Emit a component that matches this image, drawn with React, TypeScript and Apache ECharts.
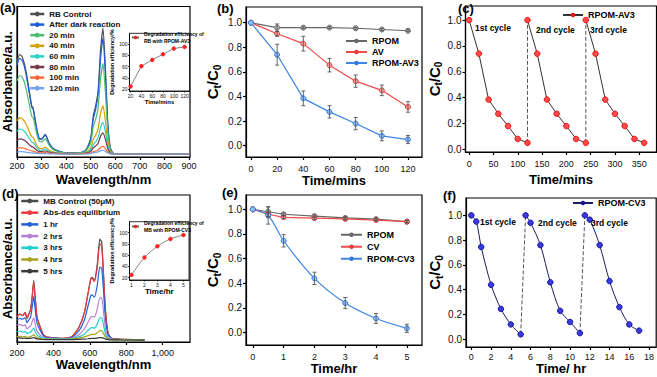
import React, { useEffect, useRef } from "react";
import * as echarts from "echarts";

const FONT = '"Liberation Sans", Arial, Helvetica, sans-serif';

// ---------- (a) RB spectra ----------
const waveA = [200,210,220,230,240,250,260,265,270,280,290,300,315,330,345,360,380,400,450,480,500,510,520,530,540,550,560,570,580,590,600,700,800,900];
const rbControl = [.63,.68,.67,.62,.54,.44,.34,.33,.29,.19,.125,.12,.15,.095,.06,.045,.035,.027,.027,.045,.125,.27,.34,.44,.71,.855,.58,.21,.06,.027,.02,.02,.02,.02];
const rbDark = [.61,.655,.645,.60,.52,.425,.33,.32,.28,.185,.122,.117,.146,.092,.058,.044,.034,.027,.027,.044,.118,.25,.315,.41,.655,.79,.535,.195,.057,.027,.02,.02,.02,.02];
const rb20 = [.505,.54,.535,.495,.43,.35,.27,.265,.235,.155,.105,.1,.12,.08,.052,.04,.031,.025,.026,.04,.095,.2,.25,.325,.52,.62,.42,.16,.048,.025,.02,.02,.02,.02];
const rb40 = [.24,.26,.257,.238,.208,.17,.135,.13,.117,.08,.058,.056,.066,.047,.035,.03,.026,.024,.025,.032,.06,.115,.145,.185,.29,.34,.235,.095,.033,.022,.02,.02,.02,.02];
const rb60 = [.17,.185,.183,.17,.149,.123,.099,.096,.087,.062,.047,.045,.052,.038,.03,.027,.024,.023,.024,.029,.047,.082,.1,.127,.197,.23,.162,.07,.029,.021,.02,.02,.02,.02];
const rb80 = [.11,.12,.119,.111,.098,.082,.068,.066,.06,.045,.037,.036,.04,.032,.027,.025,.023,.022,.023,.026,.037,.06,.073,.09,.138,.16,.115,.053,.026,.021,.02,.02,.02,.02];
const rb100 = [.056,.06,.06,.057,.051,.045,.04,.039,.036,.031,.028,.028,.029,.026,.024,.022,.021,.02,.021,.022,.027,.035,.04,.047,.062,.07,.054,.031,.022,.02,.02,.02,.02,.02];
const rb120 = [.033,.036,.035,.034,.031,.029,.027,.027,.026,.024,.023,.023,.023,.021,.02,.02,.019,.019,.019,.02,.023,.027,.03,.034,.041,.045,.037,.026,.02,.019,.019,.019,.019,.019];
const namesA = ["RB Control","After dark reaction","20 min","40 min","60 min","80 min","100 min","120 min"];
const colorsA = ["#505050","#1f5ed8","#4cbd70","#d6a000","#30d3c8","#763a4a","#ff6b3d","#72a4ee"];
const seriesA = [rbControl, rbDark, rb20, rb40, rb60, rb80, rb100, rb120];

// inset (a)
const insetATime = [20,40,60,80,100,120];
const insetAEff = [25,61,72,82,92,95];

// ---------- (b) ----------
const bTime = [0,20,40,60,80,100,120];
const bRPOM = [1.0,0.96,0.96,0.96,0.955,0.945,0.935];
const bRPOMErr = [0,0.03,0.008,0.008,0.008,0.008,0.008];
const bAV = [1.0,0.91,0.83,0.655,0.525,0.45,0.315];
const bAVErr = [0,0.02,0.06,0.055,0.05,0.043,0.043];
const bAV3 = [1.0,0.74,0.385,0.275,0.18,0.08,0.05];
const bAV3Err = [0,0.085,0.06,0.05,0.05,0.04,0.033];

// ---------- (c) ----------
const cTimes = [[0,20,40,60,80,100,120],[120,140,160,180,200,220,240],[240,260,280,300,320,340,360]];
const cValues = [[1.0,0.74,0.385,0.275,0.18,0.08,0.05],[1.0,0.74,0.385,0.275,0.18,0.08,0.05],[1.0,0.74,0.385,0.275,0.18,0.08,0.05]];

// ---------- (d) MB spectra ----------
const waveD = [200,215,230,245,255,265,275,285,292,300,310,325,340,360,400,450,500,540,570,590,605,612,625,640,655,665,675,685,700,720,760,900];
const mbControl = [.17,.19,.18,.2,.16,.19,.22,.33,.42,.3,.17,.11,.06,.035,.03,.025,.035,.1,.2,.33,.43,.44,.42,.52,.7,.68,.47,.23,.06,.025,.02,.015];
const mbAbsDes = [.17,.19,.18,.2,.16,.19,.22,.33,.41,.3,.17,.11,.06,.035,.03,.025,.035,.1,.2,.33,.43,.435,.41,.5,.67,.65,.45,.22,.06,.025,.02,.015];
const mb1 = [.15,.16,.155,.165,.13,.15,.17,.25,.31,.22,.13,.085,.05,.03,.027,.023,.03,.075,.15,.245,.315,.32,.305,.38,.51,.5,.35,.17,.05,.022,.018,.014];
const mb2 = [.115,.12,.11,.115,.09,.1,.11,.145,.165,.12,.075,.05,.035,.025,.024,.021,.026,.05,.09,.135,.17,.175,.17,.22,.3,.3,.21,.1,.035,.02,.017,.014];
const mb3 = [.07,.075,.068,.07,.058,.063,.068,.085,.095,.072,.048,.035,.027,.022,.021,.02,.023,.035,.055,.078,.095,.098,.095,.12,.165,.165,.115,.06,.025,.018,.016,.014];
const mb4 = [.036,.038,.035,.037,.032,.034,.036,.044,.05,.04,.03,.025,.021,.019,.018,.018,.02,.026,.035,.043,.05,.052,.051,.062,.077,.077,.058,.035,.02,.016,.015,.013];
const mb5 = [.03,.028,.025,.026,.023,.024,.025,.028,.03,.026,.021,.019,.017,.016,.016,.016,.016,.018,.02,.022,.024,.025,.025,.027,.03,.03,.026,.02,.016,.015,.014,.013];
const namesD = ["MB Control (50μM)","Abs-des equilibrium","1 hr","2 hrs","3 hrs","4 hrs","5 hrs"];
const colorsD = ["#4a4a4a","#ec3a40","#2262d8","#b57fd3","#1bcfcf","#a9a21e","#3a3a3a"];
const seriesD = [mbControl, mbAbsDes, mb1, mb2, mb3, mb4, mb5];

// inset (d)
const insetDTime = [1,2,3,4,5];
const insetDEff = [25,56,76,89,96];

// ---------- (e) ----------
const eTime = [0,0.5,1,2,3,4,5];
const eRPOM = [1.0,0.98,0.96,0.945,0.93,0.92,0.90];
const eRPOMErr = [0,0.04,0.01,0.01,0.01,0.01,0.01];
const eCV = [1.0,0.96,0.935,0.928,0.922,0.913,0.90];
const eCVErr = [0,0.02,0.01,0.01,0.01,0.01,0.01];
const eCV3 = [1.0,0.95,0.745,0.44,0.24,0.115,0.035];
const eCV3Err = [0,0.07,0.05,0.05,0.045,0.04,0.033];

// ---------- (f) ----------
const fTimes = [[0,0.5,1,2,3,4,5],[5.5,6,7,8,9,10,11],[11.5,12,13,14,15,16,17]];
const fValues = [[1.0,0.95,0.745,0.44,0.245,0.12,0.04],[1.0,0.94,0.76,0.46,0.23,0.14,0.05],[1.0,0.965,0.76,0.47,0.26,0.12,0.07]];

// tick lists
const ticksAX = [200,300,400,500,600,700,800,900];
const ticksDX = [200,400,600,800,1000];
const ticksInsetAX = [20,40,60,80,100,120];
const ticksInsetY = [20,40,60,80,100];
const ticksInsetDX = [1,2,3,4,5];
const ticksBX = [0,20,40,60,80,100,120];
const ticksCX = [0,50,100,150,200,250,300,350];
const ticksEX = [0,1,2,3,4,5];
const ticksFX = [0,2,4,6,8,10,12,14,16,18];
const ticksRatio = [0,0.2,0.4,0.6,0.8,1.0];

const ctName = "{m|C}{s|t}{m|/C}{s|0}";
const ctStyle = {
  color: "#000",
  fontFamily: FONT,
  fontWeight: "bold",
  rich: {
    m: { fontSize: 15, fontWeight: "bold", fontFamily: FONT, color: "#000" },
    s: { fontSize: 10, fontWeight: "bold", fontFamily: FONT, color: "#000", verticalAlign: "top", padding: [9, 0, 0, 0] },
  },
};

function axis(gridIndex: number, min: number, max: number, ticks: number[] | null, o: any = {}) {
  const lw = o.lw ?? 1.2;
  return {
    type: "value",
    gridIndex,
    min,
    max,
    axisLine: { show: true, onZero: false, lineStyle: { color: "#000", width: lw } },
    axisTick: ticks
      ? { show: true, inside: false, length: o.tickLen ?? 3, customValues: ticks, lineStyle: { color: "#000", width: lw } }
      : { show: false },
    axisLabel: ticks && !o.noLabels
      ? { show: true, customValues: ticks, margin: o.margin ?? 4, fontSize: o.fs ?? 9, fontFamily: FONT, color: "#111", formatter: o.fmt }
      : { show: false },
    splitLine: { show: false },
    name: o.name,
    nameLocation: "middle",
    nameGap: o.nameGap ?? 10,
    nameRotate: o.nameRotate,
    nameTextStyle: o.nameStyle,
  };
}

const bold = (size: number) => ({ fontFamily: FONT, fontSize: size, fontWeight: "bold", color: "#000" });
const fmt1 = (v: number) => v.toFixed(1);

function line(name: string, gi: number, xs: number[], ys: number[], color: string, o: any = {}) {
  return {
    type: "line",
    name,
    xAxisIndex: gi,
    yAxisIndex: gi,
    data: xs.map((x, i) => [x, ys[i]]),
    symbol: o.symbol ?? "none",
    symbolSize: o.symbolSize ?? 5,
    showSymbol: !!o.symbol,
    smooth: o.smooth ?? false,
    lineStyle: { color, width: o.width ?? 1.2, type: o.dash ? "dashed" : "solid" },
    itemStyle: { color: o.fill ?? color, borderColor: o.border ?? color, borderWidth: o.symbol ? 1 : 0 },
    z: o.z ?? 2,
    silent: true,
    emphasis: { disabled: true },
  };
}

function errBars(name: string, gi: number, xs: number[], ys: number[], errs: number[], color: string) {
  const data = xs.map((x, i) => [x, ys[i] - errs[i], ys[i] + errs[i]]).filter((_, i) => errs[i] > 0);
  return {
    type: "custom",
    name,
    xAxisIndex: gi,
    yAxisIndex: gi,
    data,
    z: 3,
    silent: true,
    encode: { x: 0, y: [1, 2] },
    renderItem: (_p: any, api: any) => {
      const x = api.value(0), lo = api.value(1), hi = api.value(2);
      const a = api.coord([x, lo]);
      const b = api.coord([x, hi]);
      const hw = 2;
      const st = { stroke: color, lineWidth: 0.9 };
      return {
        type: "group",
        children: [
          { type: "line", shape: { x1: a[0], y1: a[1], x2: b[0], y2: b[1] }, style: st },
          { type: "line", shape: { x1: a[0] - hw, y1: a[1], x2: a[0] + hw, y2: a[1] }, style: st },
          { type: "line", shape: { x1: b[0] - hw, y1: b[1], x2: b[0] + hw, y2: b[1] }, style: st },
        ],
      };
    },
  };
}

function buildOption() {
  const gridStyle = { show: true, borderColor: "#000", borderWidth: 1.2, backgroundColor: "transparent" };
  const grid = [
    { ...gridStyle, left: 17, top: 6.5, width: 173, height: 150.5 },
    { ...gridStyle, left: 129.5, top: 33.3, width: 60, height: 57.7, borderWidth: 0.8, backgroundColor: "#fff" },
    { ...gridStyle, left: 246, top: 7, width: 176, height: 150 },
    { ...gridStyle, left: 465.5, top: 6, width: 191, height: 146 },
    { ...gridStyle, left: 17, top: 195, width: 173, height: 147 },
    { ...gridStyle, left: 129.5, top: 221.7, width: 59.5, height: 58.3, borderWidth: 0.8, backgroundColor: "#fff" },
    { ...gridStyle, left: 246, top: 195, width: 176, height: 150 },
    { ...gridStyle, left: 466, top: 198, width: 190.5, height: 149 },
  ];

  const xAxis = [
    axis(0, 200, 904, ticksAX, { name: "Wavelength/nm", nameGap: 15.5, nameStyle: bold(13), margin: 4 }),
    axis(1, 18, 129, ticksInsetAX, { lw: 0.8, tickLen: 1.5, fs: 5, margin: 2, name: "Time/mins", nameGap: 7, nameStyle: bold(6) }),
    axis(2, -3.8, 130.7, ticksBX, { name: "Time/mins", nameGap: 17, nameStyle: bold(13), margin: 7 }),
    axis(3, -7.5, 385.4, ticksCX, { name: "Time/mins", nameGap: 20.5, nameStyle: bold(13), margin: 7 }),
    axis(4, 200, 1150, ticksDX, { name: "Wavelength/nm", nameGap: 15.5, nameStyle: bold(13), margin: 6 }),
    axis(5, 0.85, 5.43, ticksInsetDX, { lw: 0.8, tickLen: 1.5, fs: 5, margin: 2, name: "Time/hr", nameGap: 6, nameStyle: bold(8) }),
    axis(6, -0.22, 5.49, ticksEX, { name: "Time/hr", nameGap: 14, nameStyle: bold(13), margin: 7 }),
    axis(7, -0.54, 18.73, ticksFX, { name: "Time/ hr", nameGap: 13, nameStyle: bold(13), margin: 5 }),
  ];

  const yAxis = [
    axis(0, 0, 1, null, { name: "Absorbance/a.u.", nameRotate: 90, nameGap: 3, nameStyle: bold(13) }),
    axis(1, 17, 119, ticksInsetY, { lw: 0.8, tickLen: 1.5, fs: 5, margin: 2, name: "Degradation efficiency/%", nameRotate: 90, nameGap: 11, nameStyle: bold(5.5) }),
    axis(2, -0.092, 1.128, ticksRatio, { fmt: fmt1, fs: 10, margin: 4, name: ctName, nameRotate: 90, nameGap: 24, nameStyle: ctStyle }),
    axis(3, -0.021, 1.109, ticksRatio, { fmt: fmt1, fs: 10, margin: 4, name: ctName, nameRotate: 90, nameGap: 17, nameStyle: ctStyle }),
    axis(4, 0, 1, null, { name: "Absorbance/a.u.", nameRotate: 90, nameGap: 3, nameStyle: bold(13) }),
    axis(5, 16, 119.6, ticksInsetY, { lw: 0.8, tickLen: 1.5, fs: 5, margin: 2, name: "Degradation efficiency/%", nameRotate: 90, nameGap: 11, nameStyle: bold(5.5) }),
    axis(6, -0.1, 1.116, ticksRatio, { fmt: fmt1, fs: 10, margin: 4, name: ctName, nameRotate: 90, nameGap: 24, nameStyle: ctStyle }),
    axis(7, -0.062, 1.14, ticksRatio, { fmt: fmt1, fs: 10, margin: 4, name: ctName, nameRotate: 90, nameGap: 16, nameStyle: ctStyle }),
  ];

  const series: any[] = [];
  // (a)
  seriesA.forEach((ys, i) => series.push(line(namesA[i], 0, waveA, ys, colorsA[i], { smooth: 0.2, width: 1.2 })));
  series.push(line("Degradation efficiency of RB with RPOM-AV3", 1, insetATime, insetAEff, "#666", { symbol: "circle", symbolSize: 3.5, fill: "#ff2020", border: "#ff2020", width: 0.8, z: 5 }));
  // (b)
  series.push(line("RPOM|b", 2, bTime, bRPOM, "#666", { symbol: "circle", fill: "#bdbdbd", border: "#666" }));
  series.push(line("AV|b", 2, bTime, bAV, "#f04a4a", { symbol: "circle", fill: "#ff9d9d", border: "#e83a3a" }));
  series.push(line("RPOM-AV3|b", 2, bTime, bAV3, "#3d85e6", { symbol: "circle", fill: "#8fc2ff", border: "#2f78dd" }));
  series.push(errBars("errRPOM|b", 2, bTime, bRPOM, bRPOMErr, "#555"));
  series.push(errBars("errAV|b", 2, bTime, bAV, bAVErr, "#555"));
  series.push(errBars("errAV3|b", 2, bTime, bAV3, bAV3Err, "#555"));
  // (c)
  cTimes.forEach((ts, i) => series.push(line("RPOM-AV3|c", 3, ts, cValues[i], "#333", { symbol: "circle", symbolSize: 5.5, fill: "#ff4a4a", border: "#f01010", width: 1 })));
  for (let i = 0; i < cTimes.length - 1; i++) {
    const a = cTimes[i], b = cTimes[i + 1];
    series.push(line("dash|c" + i, 3, [a[a.length - 1], b[0]], [cValues[i][a.length - 1], cValues[i + 1][0]], "#555", { dash: true, width: 1 }));
  }
  // (d)
  seriesD.forEach((ys, i) => series.push(line(namesD[i], 4, waveD, ys, colorsD[i], { smooth: 0.2, width: 1.2 })));
  series.push(line("Degradation efficiency of MB with RPOM-CV3", 5, insetDTime, insetDEff, "#666", { symbol: "circle", symbolSize: 3.5, fill: "#ff2020", border: "#ff2020", width: 0.8, smooth: 0.3, z: 5 }));
  // (e)
  series.push(line("RPOM|e", 6, eTime, eRPOM, "#666", { symbol: "circle", fill: "#bdbdbd", border: "#666" }));
  series.push(line("CV|e", 6, eTime, eCV, "#f04a4a", { symbol: "circle", fill: "#ff9d9d", border: "#e83a3a" }));
  series.push(line("RPOM-CV3|e", 6, eTime, eCV3, "#3d85e6", { symbol: "circle", fill: "#8fc2ff", border: "#2f78dd", smooth: 0.3 }));
  series.push(errBars("errRPOM|e", 6, eTime, eRPOM, eRPOMErr, "#555"));
  series.push(errBars("errCV|e", 6, eTime, eCV, eCVErr, "#555"));
  series.push(errBars("errCV3|e", 6, eTime, eCV3, eCV3Err, "#555"));
  // (f)
  fTimes.forEach((ts, i) => series.push(line("RPOM-CV3|f", 7, ts, fValues[i], "#1c1c5e", { symbol: "circle", symbolSize: 5.5, fill: "#3a3ae0", border: "#16169a", width: 1, smooth: 0.3 })));
  for (let i = 0; i < fTimes.length - 1; i++) {
    const a = fTimes[i], b = fTimes[i + 1];
    series.push(line("dash|f" + i, 7, [a[a.length - 1], b[0]], [fValues[i][a.length - 1], fValues[i + 1][0]], "#555", { dash: true, width: 1 }));
  }

  const strip = (n: string) => n.split("|")[0];
  const legBase = { orient: "vertical", selectedMode: false, padding: 0 };
  const legend = [
    { ...legBase, left: 29, top: 10, itemWidth: 14, itemHeight: 6, itemGap: 2.6, data: namesA,
      lineStyle: { width: 2.5 }, textStyle: { ...bold(8), color: "#111", lineHeight: 8 } },
    { ...legBase, left: 20, top: 196.5, itemWidth: 17, itemHeight: 6, itemGap: 2.7, data: namesD,
      lineStyle: { width: 2.5 }, textStyle: { ...bold(8), color: "#111", lineHeight: 9 } },
    { ...legBase, left: 345, top: 36.5, itemWidth: 21, itemHeight: 3, itemGap: 2, data: ["RPOM|b", "AV|b", "RPOM-AV3|b"],
      formatter: strip, textStyle: { ...bold(9), lineHeight: 9 } },
    { ...legBase, left: 340, top: 230, itemWidth: 21, itemHeight: 3, itemGap: 2.5, data: ["RPOM|e", "CV|e", "RPOM-CV3|e"],
      formatter: strip, textStyle: { ...bold(9), lineHeight: 9.5 } },
    { ...legBase, left: 562, top: 10.5, itemWidth: 20, itemHeight: 3, data: ["RPOM-AV3|c"],
      formatter: strip, textStyle: { ...bold(9), lineHeight: 9 } },
    { ...legBase, left: 572, top: 198.5, itemWidth: 20, itemHeight: 3, data: ["RPOM-CV3|f"],
      formatter: strip, textStyle: { ...bold(9), lineHeight: 9 } },
    { ...legBase, left: 131, top: 27, itemWidth: 7, itemHeight: 2, data: ["Degradation efficiency of RB with RPOM-AV3"],
      formatter: () => "Degradation efficiency of\nRB with RPOM-AV3",
      textStyle: { ...bold(5), lineHeight: 7, padding: [7, 0, 0, 0] } },
    { ...legBase, left: 131, top: 216, itemWidth: 7, itemHeight: 2, data: ["Degradation efficiency of MB with RPOM-CV3"],
      formatter: () => "Degradation efficiency of\nMB with RPOM-CV3",
      textStyle: { ...bold(5), lineHeight: 7, padding: [7, 0, 0, 0] } },
  ];

  const txt = (text: string, x: number, y: number, size: number) => ({
    type: "text",
    x,
    y,
    z: 100,
    style: { text, fill: "#000", fontFamily: FONT, fontSize: size, fontWeight: "bold", verticalAlign: "middle", align: "left" },
  });
  const graphic = [
    txt("(a)", 0, 7, 13),
    txt("(b)", 217, 8, 13),
    txt("(c)", 458, 8, 13),
    txt("(d)", 2, 193, 13),
    txt("(e)", 222, 192, 13),
    txt("(f)", 443, 195, 13),
    txt("1st cycle", 475, 28, 8.5),
    txt("2nd cycle", 536, 30, 8.5),
    txt("3rd cycle", 590, 30, 8.5),
    txt("1st cycle", 480, 221.7, 8.5),
    txt("2nd cycle", 538, 223, 8.5),
    txt("3rd cycle", 591, 223, 8.5),
  ];

  return {
    animation: false,
    backgroundColor: "#fff",
    textStyle: { fontFamily: FONT },
    grid,
    xAxis,
    yAxis,
    legend,
    series,
    graphic,
  };
}

export default function App() {
  const ref = useRef<HTMLDivElement>(null);
  useEffect(() => {
    const chart = echarts.init(ref.current as HTMLDivElement, undefined, { renderer: "svg" });
    chart.setOption(buildOption() as any);
    return () => chart.dispose();
  }, []);
  return (
    <div
      ref={ref}
      style={{ position: "fixed", left: 0, top: 0, width: 657, height: 377, background: "#fff" }}
    />
  );
}
